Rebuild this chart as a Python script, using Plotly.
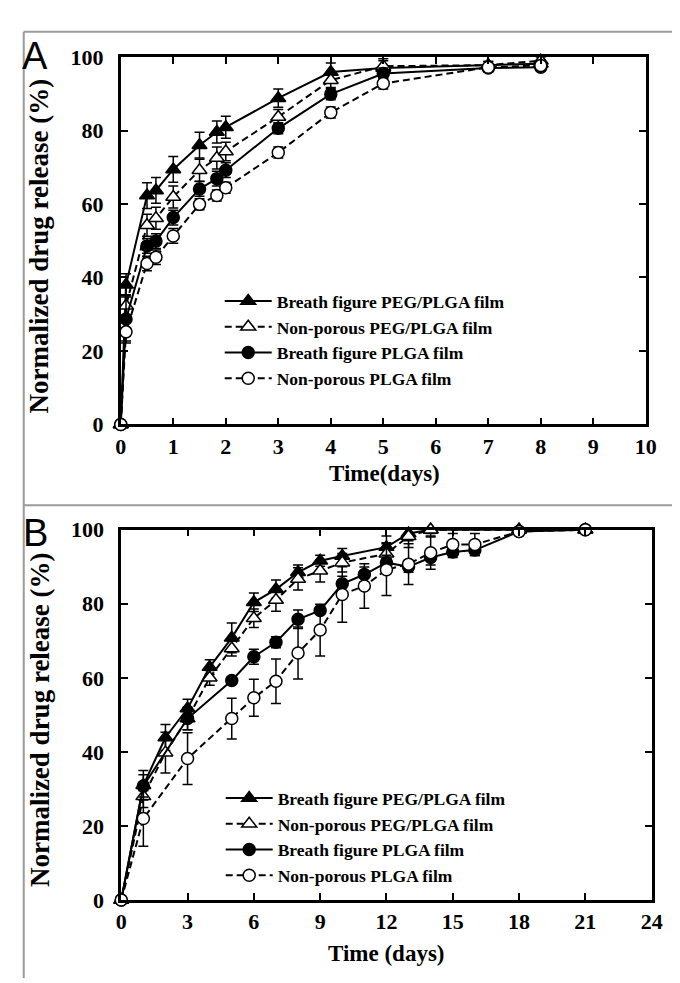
import plotly.graph_objects as go

# ---- Panel A: release over 10 days ----
days_a = [0, 0.1, 0.5, 0.67, 1, 1.5, 1.83, 2, 3, 4, 5, 7, 8]
bf_peg_a = [0, 38, 62.3, 63.7, 69.4, 76.0, 79.6, 80.9, 88.8, 95.9, 97.0, 97.8, 98.2]
bf_peg_a_err = [0, 3, 3.5, 3.5, 3.5, 3.5, 3, 3, 2.5, 2.5, 2, 1, 1]
np_peg_a = [0, 32.3, 54.2, 56.1, 61.9, 69.2, 72.5, 74.3, 83.7, 93.7, 97.5, 97.8, 99.0]
np_peg_a_err = [0, 3, 3, 3, 3, 3, 3, 2.5, 2, 2, 2, 1, 1]
bf_plga_a = [0, 28.7, 48.6, 49.9, 56.3, 64.1, 66.9, 69.2, 80.6, 89.9, 95.5, 97.0, 97.2]
bf_plga_a_err = [0, 6, 2, 2, 2, 2, 2, 2, 1.5, 1.5, 1.5, 1, 1]
np_plga_a = [0, 25.2, 43.8, 45.5, 51.3, 59.9, 62.3, 64.4, 74.0, 84.9, 92.8, 97.2, 97.7]
np_plga_a_err = [0, 3, 2, 2, 2, 1.5, 1.5, 1.5, 1.5, 1.5, 1.5, 1, 1]

# ---- Panel B: release over 24 days ----
days_b_peg = [0, 1, 2, 3, 4, 5, 6, 7, 8, 9, 10, 12, 13, 14, 18, 21]
bf_peg_b = [0, 31.0, 43.9, 51.7, 62.9, 70.8, 80.4, 83.9, 88.5, 91.6, 92.9, 95.3, 99.0, 100, 100, 100]
bf_peg_b_err = [0, 4, 3.5, 2.5, 2, 4, 2.5, 2.5, 2, 1.5, 2, 3, 2, 1, 0, 0]
np_peg_b = [0, 28.0, 39.8, 49.0, 60.0, 67.9, 76.1, 81.0, 86.7, 88.9, 91.1, 93.5, 98.2, 100, 100, 100]
np_peg_b_err = [0, 3, 5.5, 3, 2, 2, 2.5, 3, 3, 3, 2.5, 3, 3, 2, 0, 0]

days_b_plga = [0, 1, 3, 5, 6, 7, 8, 9, 10, 11, 12, 13, 14, 15, 16, 18, 21]
bf_plga_b = [0, 30.8, 49.0, 59.3, 65.7, 69.6, 75.8, 78.2, 85.4, 87.9, 91.1, 90.0, 92.5, 94.0, 94.5, 99.5, 100]
bf_plga_b_err = [0, 3, 3, 1, 2, 1.5, 2.5, 1, 2, 2, 2, 1.5, 2, 1.5, 1.5, 0, 0]
np_plga_b = [0, 22.0, 38.2, 49.0, 54.6, 59.1, 66.7, 72.9, 82.5, 84.8, 89.2, 90.7, 93.8, 96.0, 96.0, 99.5, 100]
np_plga_b_err = [0, 7.5, 7, 5.5, 5, 6, 7, 7, 7.5, 6, 7, 5.5, 4.5, 3, 3, 0, 0]

series_names = ["Breath figure PEG/PLGA film", "Non-porous PEG/PLGA film",
                "Breath figure PLGA film", "Non-porous PLGA film"]

SERIF = "Liberation Serif"
styles = [
    dict(symbol="triangle-up", fill="black", dash="solid"),
    dict(symbol="triangle-up", fill="white", dash="dash"),
    dict(symbol="circle", fill="black", dash="solid"),
    dict(symbol="circle", fill="white", dash="dash"),
]

fig = go.Figure()


def add_series(x, y, err, idx, xa, ya, legend):
    st = styles[idx]
    fig.add_trace(go.Scatter(
        x=x, y=y, name=series_names[idx], mode="lines+markers",
        xaxis=xa, yaxis=ya, legend=legend, cliponaxis=False,
        line=dict(color="black", width=2, dash="7px,4px" if st["dash"] == "dash" else "solid"),
        marker=dict(symbol=st["symbol"], size=13 if "triangle" in st["symbol"] else 12,
                    color=st["fill"], line=dict(color="black", width=1.5)),
        error_y=dict(type="data", array=err, visible=True, color="black",
                     thickness=1.5, width=5),
    ))


panel_a = [(bf_peg_a, bf_peg_a_err), (np_peg_a, np_peg_a_err),
           (bf_plga_a, bf_plga_a_err), (np_plga_a, np_plga_a_err)]
for i, (y, e) in enumerate(panel_a):
    add_series(days_a, y, e, i, "x", "y", "legend")

panel_b = [(days_b_peg, bf_peg_b, bf_peg_b_err), (days_b_peg, np_peg_b, np_peg_b_err),
           (days_b_plga, bf_plga_b, bf_plga_b_err), (days_b_plga, np_plga_b, np_plga_b_err)]
for i, (x, y, e) in enumerate(panel_b):
    add_series(x, y, e, i, "x2", "y2", "legend2")

W, H = 680, 983
tickfont = dict(family=SERIF, size=22, color="black", weight="bold")
axis_common = dict(showline=True, linecolor="black", linewidth=2.5, mirror="allticks",
                   ticks="inside", ticklen=7, tickwidth=2, tickcolor="black",
                   showgrid=False, zeroline=False, tickfont=tickfont)

legend_common = dict(font=dict(family=SERIF, size=17.5, color="black", weight="bold"),
                     bgcolor="rgba(0,0,0,0)", itemwidth=47, tracegroupgap=0,
                     xanchor="left", yanchor="top", itemclick=False)

fig.update_layout(
    width=W, height=H, margin=dict(l=0, r=0, t=0, b=0),
    paper_bgcolor="white", plot_bgcolor="white",
    xaxis=dict(domain=[109.5 / W, 648 / W], range=[0, 10], dtick=1, anchor="y",
               ticklabelstandoff=0, **axis_common),
    yaxis=dict(domain=[1 - 415 / H, 1 - 38 / H], range=[0, 100], dtick=20, anchor="x",
               ticklabelstandoff=10, **axis_common),
    xaxis2=dict(domain=[110 / W, 654 / W], range=[0, 24], dtick=3, anchor="y2",
                ticklabelstandoff=0, **axis_common),
    yaxis2=dict(domain=[1 - 903 / H, 1 - 523 / H], range=[0, 100], dtick=20, anchor="x2",
                ticklabelstandoff=10, **axis_common),
    legend=dict(x=211 / W, y=1 - 270 / H, **legend_common),
    legend2=dict(x=212 / W, y=1 - 780 / H, **legend_common),
    showlegend=True,
)

# frame lines of the figure
gray = dict(color="#9a9a9a", width=2)
fig.add_shape(type="line", xref="paper", yref="paper", x0=10 / W, x1=1, y0=1 - 12 / H, y1=1 - 12 / H, line=gray)
fig.add_shape(type="line", xref="paper", yref="paper", x0=10 / W, x1=10 / W, y0=0, y1=1 - 12 / H, line=gray)
fig.add_shape(type="line", xref="paper", yref="paper", x0=10 / W, x1=1, y0=1 - 498 / H, y1=1 - 498 / H, line=gray)

title_font = dict(family=SERIF, size=23, color="black", weight="bold")
ytitle_font = dict(family=SERIF, size=27, color="black", weight="bold")
annots = [
    dict(text="A", x=22 / W, y=1 - 37 / H, font=dict(family="Liberation Sans", size=38, color="black")),
    dict(text="B", x=22 / W, y=1 - 526 / H, font=dict(family="Liberation Sans", size=38, color="black")),
    dict(text="Time(days)", x=380 / W, y=1 - 465 / H, font=title_font),
    dict(text="Time (days)", x=382 / W, y=1 - 958 / H, font=title_font),
    dict(text="Normalized drug release (%)", x=26 / W, y=1 - 232 / H, textangle=-90, font=ytitle_font),
    dict(text="Normalized drug release (%)", x=26 / W, y=1 - 718 / H, textangle=-90, font=ytitle_font),
]
for a in annots:
    fig.add_annotation(xref="paper", yref="paper", showarrow=False,
                       xanchor="center", yanchor="middle", **a)

fig.write_html("out.html")
